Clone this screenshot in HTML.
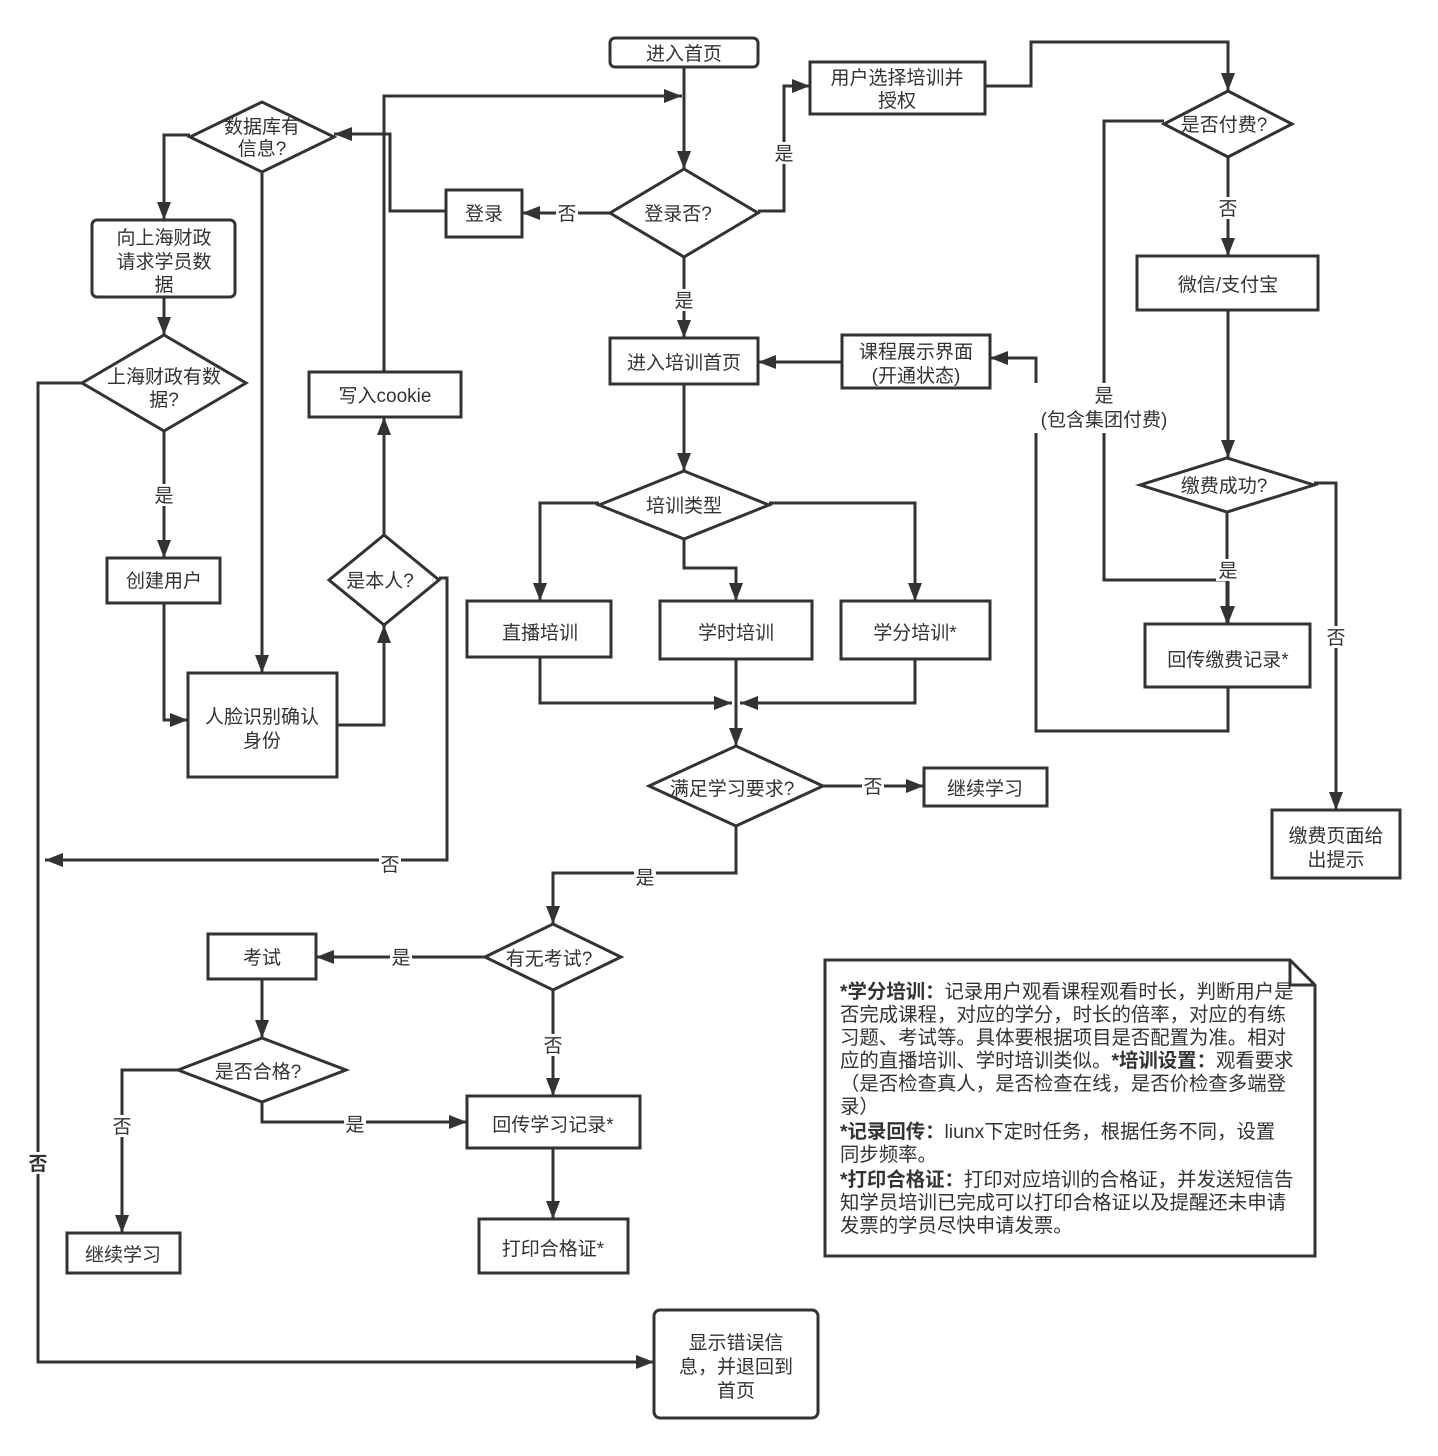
<!DOCTYPE html>
<html><head><meta charset="utf-8"><style>
html,body{margin:0;padding:0;background:#fff;}
svg{display:block;}
text{font-family:"Liberation Sans","Noto Sans CJK SC",sans-serif;font-size:19px;fill:#333;}
</style></head><body>
<svg width="1438" height="1456" viewBox="0 0 1438 1456" xmlns="http://www.w3.org/2000/svg">
<defs>
<marker id="ar" viewBox="0 0 18 14" refX="18" refY="7" markerWidth="18" markerHeight="14" markerUnits="userSpaceOnUse" orient="auto"><path d="M0,0 L18,7 L0,14 z" fill="#333"/></marker>
</defs>
<g fill="none" stroke="#333" stroke-width="3">
<rect x="610" y="38" width="148" height="29" rx="5"/>
<rect x="810" y="62" width="175" height="52"/>
<polygon points="1164,124 1228,91 1292,124 1228,157"/>
<polygon points="190,137 262,102 334,137 262,172"/>
<rect x="446" y="190" width="76" height="47"/>
<polygon points="610,213 684,169 758,213 684,257"/>
<rect x="92" y="220" width="143" height="77" rx="5"/>
<rect x="1137" y="256" width="181" height="54"/>
<rect x="610" y="338" width="148" height="46"/>
<rect x="842" y="335" width="148" height="53"/>
<polygon points="82,383 164,335 246,383 164,431"/>
<rect x="309" y="372" width="152" height="45"/>
<polygon points="1140,485 1227,458 1314,485 1227,512"/>
<polygon points="599,505 684,471 769,505 684,539"/>
<polygon points="329,580 384,535 439,580 384,625"/>
<rect x="107" y="558" width="113" height="45"/>
<rect x="467" y="601" width="144" height="56"/>
<rect x="660" y="601" width="152" height="58"/>
<rect x="841" y="601" width="149" height="58"/>
<rect x="1145" y="624" width="165" height="63"/>
<rect x="188" y="673" width="149" height="104"/>
<polygon points="649,786 736,746 823,786 736,826"/>
<rect x="924" y="768" width="123" height="38"/>
<rect x="1272" y="810" width="128" height="68"/>
<polygon points="485,957 553,924 621,957 553,990"/>
<rect x="208" y="934" width="108" height="45"/>
<polygon points="178,1070 262,1038 346,1070 262,1102"/>
<rect x="467" y="1096" width="173" height="52"/>
<rect x="67" y="1233" width="113" height="40"/>
<rect x="479" y="1219" width="149" height="54"/>
<rect x="654" y="1310" width="164" height="108" rx="6"/>
<path d="M825,960 H1290 L1315,985 V1256 H825 Z"/>
<path d="M1290,960 V985 H1315"/>
</g>
<g fill="none" stroke="#333" stroke-width="3" marker-end="url(#ar)">
<path d="M684,67 V169"/>
<path d="M384,372 V96 H682"/>
<path d="M610,213 H522"/>
<path d="M446,211 H390 V134 H334"/>
<path d="M758,211 H784 V86 H810"/>
<path d="M985,86 H1031 V42 H1228 V91"/>
<path d="M1228,157 V256"/>
<path d="M1164,121 H1104 V580 H1228 V624"/>
<path d="M1227,512 V624"/>
<path d="M1228,310 V458"/>
<path d="M1314,483 H1336 V810"/>
<path d="M1228,687 V731 H1036 V358 H990"/>
<path d="M842,362 H758"/>
<path d="M684,257 V338"/>
<path d="M684,384 V471"/>
<path d="M599,503 H540 V601"/>
<path d="M684,539 V568 H736 V601"/>
<path d="M769,503 H915 V601"/>
<path d="M540,657 V703 H732"/>
<path d="M915,659 V703 H740"/>
<path d="M736,659 V746"/>
<path d="M823,786 H924"/>
<path d="M736,826 V873 H553 V924"/>
<path d="M485,957 H316"/>
<path d="M553,990 V1096"/>
<path d="M262,979 V1038"/>
<path d="M262,1102 V1122 H467"/>
<path d="M178,1070 H122 V1233"/>
<path d="M553,1148 V1219"/>
<path d="M190,135 H164 V220"/>
<path d="M262,172 V673"/>
<path d="M164,297 V335"/>
<path d="M164,431 V558"/>
<path d="M164,603 V720 H188"/>
<path d="M337,725 H384 V625"/>
<path d="M384,535 V417"/>
<path d="M439,578 H447 V860 H45"/>
<path d="M82,383 H38 V1362 H654"/>
</g>
<g fill="#fff">
<rect x="556" y="202" width="22" height="22"/>
<rect x="773" y="142" width="22" height="22"/>
<rect x="1217" y="197" width="22" height="22"/>
<rect x="1030" y="383" width="150" height="50"/>
<rect x="1216" y="559" width="22" height="22"/>
<rect x="1325" y="626" width="22" height="22"/>
<rect x="673" y="289" width="22" height="22"/>
<rect x="862" y="775" width="22" height="22"/>
<rect x="634" y="866" width="22" height="22"/>
<rect x="390" y="946" width="22" height="22"/>
<rect x="542" y="1034" width="22" height="22"/>
<rect x="344" y="1113" width="22" height="22"/>
<rect x="111" y="1115" width="22" height="22"/>
<rect x="153" y="484" width="22" height="22"/>
<rect x="379" y="853" width="22" height="22"/>
<rect x="27" y="1152" width="22" height="22"/>
</g>
<g text-anchor="middle">
<text x="684" y="60">进入首页</text>
<text x="897" y="84">用户选择培训并</text>
<text x="897" y="107">授权</text>
<text x="1224" y="131">是否付费?</text>
<text x="262" y="133">数据库有</text>
<text x="262" y="155">信息?</text>
<text x="484" y="220">登录</text>
<text x="678" y="220">登录否?</text>
<text x="164" y="244">向上海财政</text>
<text x="164" y="268">请求学员数</text>
<text x="164" y="291">据</text>
<text x="1228" y="291">微信/支付宝</text>
<text x="684" y="369">进入培训首页</text>
<text x="916" y="358">课程展示界面</text>
<text x="916" y="382">(开通状态)</text>
<text x="164" y="383">上海财政有数</text>
<text x="164" y="406">据?</text>
<text x="385" y="402">写入cookie</text>
<text x="1104" y="402">是</text>
<text x="1104" y="426">(包含集团付费)</text>
<text x="1224" y="492">缴费成功?</text>
<text x="684" y="512">培训类型</text>
<text x="380" y="587">是本人?</text>
<text x="164" y="587">创建用户</text>
<text x="540" y="639">直播培训</text>
<text x="736" y="639">学时培训</text>
<text x="915" y="639">学分培训*</text>
<text x="1228" y="666">回传缴费记录*</text>
<text x="262" y="723">人脸识别确认</text>
<text x="262" y="747">身份</text>
<text x="732" y="795">满足学习要求?</text>
<text x="985" y="795">继续学习</text>
<text x="1336" y="842">缴费页面给</text>
<text x="1336" y="866">出提示</text>
<text x="549" y="965">有无考试?</text>
<text x="262" y="964">考试</text>
<text x="258" y="1078">是否合格?</text>
<text x="553" y="1131">回传学习记录*</text>
<text x="123" y="1261">继续学习</text>
<text x="553" y="1255">打印合格证*</text>
<text x="736" y="1349">显示错误信</text>
<text x="736" y="1373">息，并退回到</text>
<text x="736" y="1397">首页</text>
<text x="567" y="220">否</text>
<text x="784" y="160">是</text>
<text x="1228" y="215">否</text>
<text x="1228" y="577">是</text>
<text x="1336" y="644">否</text>
<text x="684" y="307">是</text>
<text x="873" y="793">否</text>
<text x="645" y="884">是</text>
<text x="401" y="964">是</text>
<text x="553" y="1052">否</text>
<text x="355" y="1131">是</text>
<text x="122" y="1133">否</text>
<text x="164" y="502">是</text>
<text x="390" y="871">否</text>
<text x="38" y="1170" font-weight="bold">否</text>
</g>
<g style="font-size:19.4px">
<text x="840" y="998" style="font-size:19.4px"><tspan font-weight="bold">*学分培训：</tspan>记录用户观看课程观看时长，判断用户是</text>
<text x="840" y="1021" style="font-size:19.4px">否完成课程，对应的学分，时长的倍率，对应的有练</text>
<text x="840" y="1044" style="font-size:19.4px">习题、考试等。具体要根据项目是否配置为准。相对</text>
<text x="840" y="1067" style="font-size:19.4px">应的直播培训、学时培训类似。<tspan font-weight="bold">*培训设置：</tspan>观看要求</text>
<text x="840" y="1090" style="font-size:19.4px">（是否检查真人，是否检查在线，是否价检查多端登</text>
<text x="840" y="1113" style="font-size:19.4px">录）</text>
<text x="840" y="1138" style="font-size:19.4px"><tspan font-weight="bold">*记录回传：</tspan>liunx下定时任务，根据任务不同，设置</text>
<text x="840" y="1161" style="font-size:19.4px">同步频率。</text>
<text x="840" y="1186" style="font-size:19.4px"><tspan font-weight="bold">*打印合格证：</tspan>打印对应培训的合格证，并发送短信告</text>
<text x="840" y="1209" style="font-size:19.4px">知学员培训已完成可以打印合格证以及提醒还未申请</text>
<text x="840" y="1232" style="font-size:19.4px">发票的学员尽快申请发票。</text>
</g>
</svg>
</body></html>
